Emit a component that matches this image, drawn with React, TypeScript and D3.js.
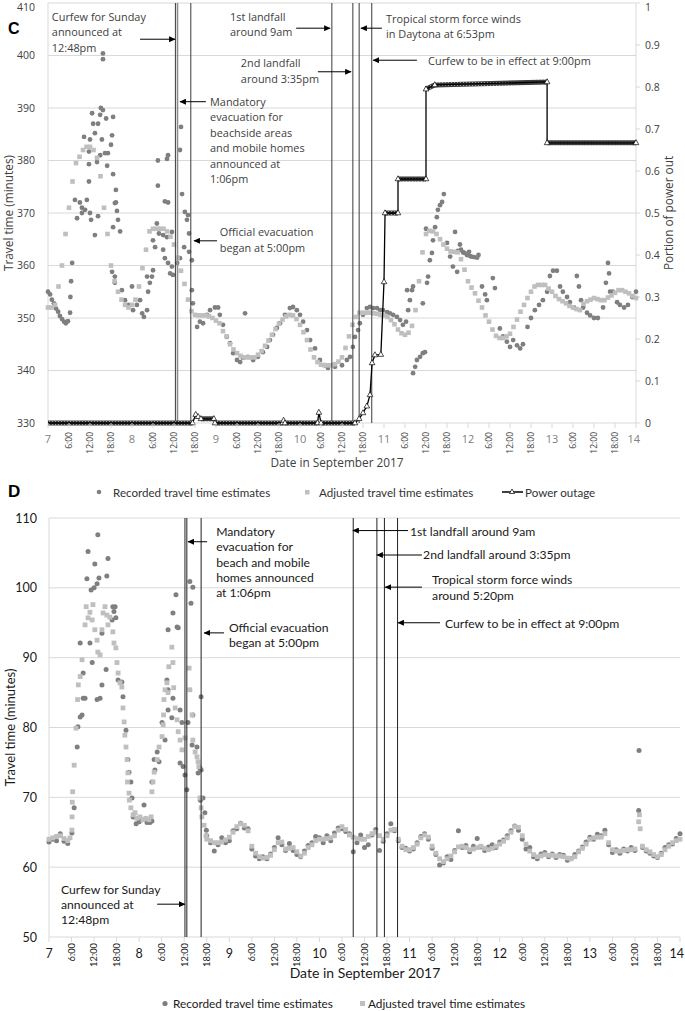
import * as d3 from 'd3'

const W = 685
const H = 1011

// hours are counted from Sept 7, 00:00
const DAY_LABELS = ['7', '8', '9', '10', '11', '12', '13', '14']
const HOUR_LABELS = ['6:00', '12:00', '18:00']
const TICKS_C_LEFT = [330, 340, 350, 360, 370, 380, 390, 400, 410]
const TICKS_C_RIGHT = [0, 0.1, 0.2, 0.3, 0.4, 0.5, 0.6, 0.7, 0.8, 0.9, 1]
const TICKS_D = [50, 60, 70, 80, 90, 100, 110]

// ---- panel C ----
const adjustedC = [
  352, 352, 352.5, 356, 360, 366, 371, 376, 379.5, 380.7, 382, 382.6, 382.6, 382, 380.5, 377, 371, 366, 360, 357, 355, 353.5, 352.5, 352,
  352.5, 353.5, 356, 359.5, 363, 366.5, 367, 367, 367, 367, 366.5, 365.5, 364, 361.5, 359, 356.5, 353.5, 351.3, 350.6, 350.5, 350.5, 350.5, 350.3, 350,
  349.5, 349, 347.5, 346.5, 345, 344, 343.3, 342.8, 342.5, 342.5, 342.5, 342.5, 343, 343.7, 344.7, 345.7, 346.8, 347.9, 348.9, 349.7, 350.3, 350.6, 350.5, 349.8,
  348.7, 347.3, 345.8, 344, 342.5, 341.6, 341.1, 341, 341, 341, 341.2, 341.7, 342.5, 344.3, 346.5, 348.7, 350.2, 351, 351, 351, 351, 350.9, 350.8, 350.6,
  350.5, 350.2, 349.6, 348.8, 347.8, 347.1, 346.8, 347.2, 348.5, 351.5, 357, 362.5, 366, 366.6, 366.5, 366, 365, 364, 363.2, 362.7, 362.6, 362.5, 361.2, 359.2,
  357, 355.8, 354.7, 353.3, 352, 350.5, 349.3, 347.8, 346.6, 346.2, 346.2, 346.5, 347, 348.3, 349.7, 351.2, 352.5, 353.8, 355, 356, 356.3, 356.3, 356.3, 355.6,
  355, 354.2, 353.6, 353.2, 352.8, 352.3, 352, 351.7, 351.5, 352.7, 353.2, 353.5, 353.8, 353.6, 353.4, 353.4, 353.9, 354.3, 354.8, 355.3, 355.3, 355, 354.7, 354.2, 353.8,
]

const recordedC: [number, number][] = [
  [0, 355], [0.6, 354.5], [1.1, 353.5], [1.7, 352.8], [2.3, 351.8], [2.9, 351.2], [3.4, 350.4], [4, 349.8], [4.6, 349.3], [5.1, 349], [5.7, 349.4],
  [6.3, 351], [6.4, 354], [6.6, 357], [6.9, 360.5], [7.7, 372.5], [8.3, 369], [9.1, 372], [9.7, 370], [9.7, 371], [10.3, 384.5], [10.6, 370.6],
  [11.1, 372.5], [11.7, 376], [11.7, 379.3], [11.7, 381.7], [12, 384], [12, 370], [12.3, 368.7], [12.6, 389], [12.9, 387], [13.4, 385.2], [13.4, 365.8],
  [14, 379.7], [14.3, 387], [14.3, 369.4], [14.9, 388.7], [14.9, 381], [15.1, 390], [15.4, 384], [15.7, 400.4], [15.7, 399.3], [15.7, 389.6],
  [16.3, 381.4], [16.6, 388], [16.9, 379], [17.1, 381.4], [18, 383], [18.3, 384.8], [18.6, 388.3], [18.6, 377.4], [18.6, 367.3], [19.1, 371.9],
  [19.4, 374.4], [19.4, 372], [19.7, 370.4], [20, 368.7], [20.6, 366.5], [18.3, 358.8], [19.1, 357.9], [19.1, 356.7], [21.1, 355.3], [22, 353.4],
  [22.9, 352.5], [24, 356], [24.3, 351.5], [25.4, 352.5], [26.3, 353.4], [26.9, 350.9], [27.4, 350.2], [28.3, 351.5], [28.3, 357.9], [28.6, 355],
  [29.1, 356.7], [29.7, 357.9], [30, 359.1], [30, 364.8], [30.6, 363.5], [31.1, 368], [31.4, 380], [31.4, 375.2], [31.7, 366.1], [32.9, 363],
  [32.9, 365.8], [33.4, 361.4], [33.4, 372.2], [34, 365.4], [34, 380.3], [34.3, 381], [34.3, 372], [34.3, 360.5], [34.9, 358.5], [35.4, 359.8],
  [35.4, 366.4], [35.7, 358.2], [36.9, 360.5], [37.7, 361.4], [37.7, 382], [38, 386.4], [38.3, 373.6], [38.9, 363.5], [39.1, 370.2], [39.7, 368.7],
  [40, 369.6], [40.3, 366.1], [40.3, 362.6], [41.1, 361], [41.1, 355.3], [41.4, 352.8], [42.6, 348.3], [43.4, 349.3], [44.3, 349], [45.4, 350.6],
  [46.3, 351.5], [47.7, 352], [48.6, 352], [49.1, 350.6], [50, 348.7], [51.1, 346.4], [52, 345.2], [52.9, 343.3], [54, 342], [54.9, 341.6],
  [55.7, 342.4], [56.3, 350.9], [57.1, 342.6], [58.6, 342], [60, 342.6], [61.4, 343.5], [62.6, 344.5], [63.4, 345.8], [64.3, 346.8], [65.4, 348.1],
  [66.3, 349], [67.7, 350.6], [69.1, 351.9], [70, 352.1], [71.1, 351.5], [72, 350.6], [72.9, 349.3], [74, 347.7], [74.9, 345.8], [76.3, 344.2],
  [77.7, 342], [79.1, 341], [80, 340.5], [82, 340.7], [84, 341], [85.4, 342], [86.3, 342.6], [87.1, 344.5], [87.7, 346.4], [88.6, 347.7],
  [89.1, 349], [90, 350.6], [91.1, 351.9], [92, 352.1], [92.9, 351.9], [94, 351.9], [94.9, 351.5], [95.7, 351.5], [96.9, 351.1], [97.7, 350.9],
  [98.6, 350.6], [99.7, 350.2], [100.6, 349.6], [101.4, 348.7], [102.3, 349.3], [102.6, 355.3], [102.9, 351.5], [103.4, 353.4], [104, 355.3],
  [104.3, 356], [104.3, 339.5], [104.9, 340.7], [105.4, 342], [106.3, 342.6], [107.1, 343.3], [107.1, 352.8], [107.7, 343.5], [108, 367],
  [108.3, 356.7], [108.6, 357.9], [109.1, 361], [109.7, 362.4], [110, 364.8], [110.6, 367.3], [111.1, 369.2], [111.4, 370.6], [112, 371.5],
  [112.6, 372.1], [113.1, 373.6], [114, 364.3], [114.9, 361.7], [115.7, 359.8], [116.3, 366.4], [116.9, 358.8], [117.1, 362.8], [117.7, 364],
  [118, 363], [118.6, 362.5], [119, 362.4], [119.7, 362], [120.3, 362.6], [120.6, 361.8], [121, 361.7], [121.7, 361.6], [122.6, 361.5], [123, 362],
  [124, 356], [124.9, 354.5], [125.4, 353.4], [127.1, 357.6], [127.7, 355.7], [129.1, 348], [130, 346.5], [131.1, 345.5], [132, 344.5],
  [132.9, 345.8], [134, 344.8], [134.9, 344.2], [135.7, 345], [137, 348.3], [138, 350], [139.1, 351.5], [140.3, 352.5], [141.4, 353.4],
  [142.6, 355], [143.4, 358], [144.3, 359], [145.4, 359], [146.3, 356], [147.1, 355], [148.3, 354], [149.1, 353], [150.3, 352], [151.1, 358],
  [151.7, 356], [152.3, 353.4], [152.9, 352], [154, 351], [154.9, 350.5], [156, 350], [157.1, 350], [158.6, 352], [159.4, 356.7], [160, 360.5],
  [160.3, 358.5], [160.6, 355], [161.4, 355], [162.6, 353], [163.4, 352.5], [164.6, 352], [165.7, 352.5], [166.9, 354], [168, 355],
]

// power outage (portion of customers), step series
const powerHours = [0, 41.3, 42.2, 42.9, 43.7, 47.4, 47.7, 67, 67.3, 67.7, 77, 77.4, 78, 87.7, 88.9, 90, 91.1, 92, 92.6, 93.4, 95.1, 96, 96.3, 100, 100, 108, 108, 110.5, 142.6, 142.6, 168]
const powerValues = [0, 0, 0.02, 0.015, 0.01, 0.01, 0, 0, 0.006, 0, 0, 0.025, 0, 0, 0.01, 0.024, 0.04, 0.067, 0.143, 0.162, 0.163, 0.336, 0.5, 0.5, 0.581, 0.581, 0.795, 0.805, 0.812, 0.667, 0.667]

const eventHoursC = [36.4, 37, 40.8, 81.1, 87.1, 88.9, 92.5]

const notesC = [
  { lines: ['Curfew for Sunday', 'announced at', '12:48pm'], h: 1.1, v: 406.6, arrow: [26.3, 36.3, 403.1] },
  { lines: ['Mandatory', 'evacuation for', 'beachside areas', 'and mobile homes', 'announced at', '1:06pm'], h: 46.3, v: 390.4, arrow: [45.1, 37.7, 391.2] },
  { lines: ['Official evacuation', 'began at 5:00pm'], h: 49.1, v: 365.6, arrow: [48.3, 41.7, 364.7] },
  { lines: ['1st landfall', 'around 9am'], h: 52, v: 406.6, arrow: [70.9, 80.6, 405.2] },
  { lines: ['2nd landfall', 'around 3:35pm'], h: 55.1, v: 397.8, arrow: [77.1, 86.6, 396.9] },
  { lines: ['Tropical storm force winds', 'in Daytona at 6:53pm'], h: 96.6, v: 406.2, arrow: [95.4, 89.4, 405.2] },
  { lines: ['Curfew to be in effect at 9:00pm'], h: 108.6, v: 398.2, arrow: [105.4, 92.9, 399.1] },
]

// ---- panel D ----
const adjustedDEarly: [number, number][] = [
  [0, 64], [1, 64.2], [2, 64.4], [3, 64.5], [4, 64.1], [5, 63.8], [5.6, 64.2], [6.1, 65.3], [6.15, 67.2], [6.2, 69.3], [6.3, 70.8],
  [6.7, 74.6], [7.2, 79.9], [7.6, 84], [7.8, 86.1], [8.3, 87.3], [8.8, 89.7], [9.6, 94.7], [9.9, 97.3], [10.4, 95.7], [10.9, 96.5],
  [11.5, 95.4], [11.7, 97.6], [12.2, 94], [12.8, 92.5], [13, 90.8], [13.6, 90.4], [14.1, 94], [14.4, 96.4], [14.9, 97.3], [15.4, 96.1],
  [15.7, 94.7], [16.2, 95.8], [17, 93.7], [17.3, 92.1], [17.8, 91.4], [18.1, 89.3], [18.4, 87.8], [18.9, 86.4], [19.4, 85.8], [19.7, 82.8],
  [20, 80.8], [20.2, 78.9], [20.5, 77.2], [20.8, 75.4], [20.9, 72.2], [21, 73.5], [21.3, 70.6], [21.4, 69.6], [21.8, 68.5], [22.4, 67.5],
  [22.9, 67.8], [23.4, 67], [24.2, 67.2], [25, 66.8], [25.8, 67], [26.6, 66.8], [27.2, 67.2], [27.4, 70.8], [27.7, 72.2], [28, 73.6],
  [28.8, 75.4], [29.3, 77.2], [30.1, 78.7], [30.4, 80.4], [30.5, 81.8], [30.6, 84], [30.9, 85.4], [31.4, 86.4], [31.7, 85], [31.9, 88.7],
  [32.7, 91.5], [33, 89.3], [33.2, 85.7], [33.6, 82.8], [34.1, 81.1], [34.4, 79.4], [34.9, 78.2], [35.4, 76.8], [36.2, 78.5], [37.3, 88.5],
  [37.5, 85.4], [38.1, 81.8], [38.3, 78.2], [38.9, 76.5], [39.4, 75.8], [39.7, 75.1], [39.9, 74.4], [40.2, 69.9], [40.5, 68.5], [40.7, 67.2],
  [41.3, 66], [41.8, 64.5],
]
// hourly from hour 42
const adjustedDLate = [
  64, 63.8, 63.5, 63.5, 63.6, 63.9, 64.3, 65, 65.8, 66.2, 66, 65.2, 63, 62, 61.5, 61.3, 61.4, 61.7, 62.5, 63.5, 63.6, 62.6, 62.7, 62.8, 62.2, 61.6,
  62, 62.8, 63.2, 63.8, 64, 64, 64.1, 64.2, 64.5, 65.3, 65.8, 65.4, 64.6, 64.3, 64.1, 64, 64, 64.4, 64.8, 65, 64.5, 64, 64.5, 65.3, 65.4, 64,
  63, 62.5, 62.5, 62.8, 63.3, 64.2, 64.6, 64.3, 63, 62, 61.2, 60.8, 61.2, 61.6, 62.2, 62.9, 63, 62.8, 62.5, 62.6, 62.8, 63, 62.7, 62.5, 62.7, 63,
  63.3, 63.7, 64.2, 65, 65.8, 65.7, 64.5, 63.3, 62.3, 61.8, 61.5, 61.6, 61.8, 61.7, 61.7, 61.6, 61.6, 61.5, 61.3, 61.2, 61.5, 62.2, 62.7, 63.3,
  64, 64.2, 64.3, 64.3, 64.8, 63.5, 62.5, 62.3, 62.3, 62.4, 62.5, 62.5, 62.6, 66.5, 63, 62.5, 62.2, 61.8, 61.5, 61.8, 62.5, 63, 63.5, 63.8, 64,
]
const adjustedDExtra: [number, number][] = [[157.2, 67.5], [157.4, 65.5]]

const recordedDEarly: [number, number][] = [
  [0, 63.6], [1, 64], [2, 63.8], [3, 64.8], [4, 63.7], [5, 63.4], [6.1, 64.9], [6.7, 68.5], [7.5, 77.2], [7.7, 80.1], [8.3, 81.5], [8.8, 81.8],
  [8.3, 92.1], [9.1, 84.2], [9.6, 84.2], [9.1, 87.8], [10.9, 92.1], [11.5, 89.3], [12.8, 84], [13.6, 84.2], [14.1, 86.1], [14.1, 93.5],
  [15.2, 88.3], [16.8, 95.4], [17, 97.3], [17.3, 96.6], [17.8, 95.7], [18.4, 86.8], [19.4, 86.5], [19.7, 84.4], [20.5, 79.6], [21, 75.4],
  [21.3, 73.6], [21.8, 72.2], [22.1, 69.9], [13, 107.6], [10.4, 105.2], [15.7, 104.2], [12.2, 103.4], [10.1, 101.3], [13.3, 101.4],
  [15.4, 101.7], [12, 100], [12.8, 100.6], [11.2, 99.7], [17.6, 97.3], [22.4, 67.2], [23.2, 66.2], [24, 66.5], [24.8, 66.8], [25.3, 68.9],
  [26.1, 66.4], [26.9, 66.4], [27.4, 66.6], [27.4, 72.2], [28.2, 73.9], [28, 75.4], [28.8, 76.5], [29.3, 75.1], [30.1, 80.7], [30.9, 78.2],
  [31.4, 86.8], [31.7, 82.5], [32.7, 81.4], [31.7, 85.4], [33, 84.2], [33, 96.4], [34.1, 94.4], [33.8, 99], [34.4, 94.3], [34.9, 82.5],
  [35.4, 80.7], [34.9, 74.9], [35.7, 74.4], [36.2, 73.2], [36.7, 71.1], [37, 80.7], [37.5, 100.9], [38.3, 100.1], [37.8, 97.8], [38.1, 77.5],
  [38.3, 81.8], [39.4, 77.2], [39.7, 73.5], [40.2, 74.2], [40.5, 84.4], [40.5, 73.9], [41, 69.9], [31.7, 94], [40.3, 69.6], [41.5, 67.8], [41.9, 65.3],
]
// hourly from hour 42
const recordedDLate = [
  64.5, 63.5, 62.3, 63.2, 64.2, 63.5, 63.8, 65.2, 65.5, 66.3, 65.6, 65.5, 62.6, 61.6, 61.2, 61.5, 61.2, 61.9, 62.8, 64.2, 63.2, 62.4, 63.4, 62.4,
  61.8, 61.5, 62.3, 63.1, 63.5, 64.4, 64.2, 63.5, 64.5, 63.8, 64.9, 65.6, 65.5, 65.1, 64.8, 62.2, 63.5, 64.6, 62.8, 63.2, 64.6, 65.4, 62.4, 63.7,
  64.8, 66.2, 65.2, 63.8, 62.8, 62.7, 62.3, 62.6, 63.5, 64.4, 64.8, 64, 62.7, 61.8, 60.3, 60.6, 61.5, 61.1, 62.4, 65.2, 62.8, 63.1, 62.2, 63,
  64.1, 62.9, 62.4, 62.9, 63.2, 62.8, 63.6, 63.9, 64.5, 65.2, 65.9, 65.3, 64, 62.6, 62.8, 61.5, 61.2, 61.9, 62.1, 61.5, 61.9, 61.4, 61.8, 61.7,
  61, 61.2, 61.8, 62.3, 62.9, 63.6, 64.3, 64, 64.7, 64.5, 65.3, 63.2, 62.1, 62.5, 62, 62.6, 62.3, 62.8, 62.4, 68.1, 62.8, 62.3, 62, 61.6, 61.4,
  62, 62.8, 63.2, 63.3, 64.1, 64.8,
]
const recordedDExtra: [number, number][] = [[157.1, 76.7]]

const eventHoursD = [36.2, 36.7, 40.5, 81, 87.3, 89.3, 92.8]

const notesD = [
  { lines: ['Mandatory', 'evacuation for', 'beach and mobile', 'homes announced', 'at 1:06pm'], h: 44.5, v: 107.4, arrow: [42.1, 37, 106.6] },
  { lines: ['Official evacuation', 'began at 5:00pm'], h: 47.9, v: 93.7, arrow: [46.6, 41.3, 93.55] },
  { lines: ['1st landfall around 9am'], h: 96.1, v: 107.4, arrow: [95.6, 80.9, 108.2] },
  { lines: ['2nd landfall around 3:35pm'], h: 99.6, v: 104.1, arrow: [99.3, 87.3, 104.7] },
  { lines: ['Tropical storm force winds', 'around 5:20pm'], h: 102, v: 100.5, arrow: [99.3, 89.5, 100.1] },
  { lines: ['Curfew to be in effect at 9:00pm'], h: 105.4, v: 94.2, arrow: [104.1, 92.9, 95] },
  { lines: ['Curfew for Sunday', 'announced at', '12:48pm'], h: 3.2, v: 56.2, arrow: [28.8, 36.2, 54.7] },
]

const FONT_C = "'Open Sans', sans-serif"
const FONT_D = "'Liberation Sans Narrow', 'Arial Narrow', Lato, sans-serif"
const REC = '#7f7f7f'
const ADJ = '#bfbfbf'
const GRID = '#d9d9d9'

const hourTicks = d3.range(0, 169, 6)

function Notes({ notes, x, y, size, lh, font, fill }: any) {
  return (
    <g>
      {notes.map((n: any, i: number) => (
        <g key={i}>
          <text x={x(n.h)} y={y(n.v)} fontFamily={font} fontSize={size} fill={fill}>
            {n.lines.map((l: string, j: number) => (
              <tspan key={j} x={x(n.h)} dy={j ? lh : 0}>{l}</tspan>
            ))}
          </text>
          <line x1={x(n.arrow[0])} x2={x(n.arrow[1])} y1={y(n.arrow[2])} y2={y(n.arrow[2])}
            stroke="#000" strokeWidth={1} markerEnd="url(#arrowhead)" />
        </g>
      ))}
    </g>
  )
}

function TimeAxis({ x, y0, dayY, hourY, daySize, hourSize, font, dayFill, hourFill }: any) {
  return (
    <g fontFamily={font}>
      {hourTicks.map((h) => (
        <line key={h} x1={x(h)} x2={x(h)} y1={y0} y2={y0 + 5} stroke={GRID} />
      ))}
      {hourTicks.map((h) => {
        const k = (h / 6) % 4
        if (k === 0) {
          const last = h === 168
          return (
            <text key={h} x={last ? x(h) + 4 : x(h)} y={dayY} textAnchor={last ? 'end' : 'middle'}
              fontSize={daySize} fill={dayFill}>
              {DAY_LABELS[h / 24]}
            </text>
          )
        }
        return (
          <text key={h} transform={`translate(${x(h) + hourSize * 0.36},${hourY}) rotate(-90)`}
            textAnchor="end" fontSize={hourSize} fill={hourFill}>
            {HOUR_LABELS[k - 1]}
          </text>
        )
      })}
    </g>
  )
}

function PanelC() {
  const x = d3.scaleLinear().domain([0, 168]).range([48, 636])
  const y = d3.scaleLinear().domain([330, 410]).range([423, 3])
  const yp = d3.scaleLinear().domain([0, 1]).range([423, 3])
  const [x0, x1] = x.range()

  const powerPts = powerHours.map((h, i) => [x(h), yp(powerValues[i])] as [number, number])
  const stepLine = d3.line()(powerPts) ?? ''
  const bands = powerPts.slice(1).map((p, i) => {
    const q = powerPts[i]
    const flat = powerHours[i + 1] - powerHours[i] >= 2 && Math.abs(powerValues[i + 1] - powerValues[i]) < 0.03
    return flat ? <line key={i} x1={q[0]} y1={q[1]} x2={p[0]} y2={p[1]} stroke="url(#hatch)" strokeWidth={5} /> : null
  })

  return (
    <g>
      {TICKS_C_LEFT.map((t) => (
        <line key={t} x1={x0} x2={x1} y1={y(t)} y2={y(t)} stroke={GRID} />
      ))}
      <line x1={x0} x2={x0} y1={y(410)} y2={y(330)} stroke={GRID} />
      <line x1={x1} x2={x1} y1={y(410)} y2={y(330)} stroke={GRID} />
      {TICKS_C_RIGHT.map((t) => (
        <line key={t} x1={x1} x2={x1 + 4} y1={yp(t)} y2={yp(t)} stroke={GRID} />
      ))}

      {recordedC.map(([h, v], i) => (
        <circle key={i} cx={x(h)} cy={y(v)} r={2.4} fill={REC} />
      ))}
      {adjustedC.map((v, i) => (
        <rect key={i} x={x(i) - 2.3} y={y(v) - 2.3} width={4.6} height={4.6} fill={ADJ} />
      ))}

      {eventHoursC.map((h, i) => (
        <line key={i} x1={x(h)} x2={x(h)} y1={y(410)} y2={y(330)}
          stroke={i === 1 ? '#8c8c8c' : '#3a3a3a'} strokeWidth={i === 1 ? 1.6 : 1} />
      ))}

      {bands}
      <path d={stepLine} fill="none" stroke="#000" strokeWidth={1.3} />
      {powerPts.slice(1).map(([px, py], i) => (
        <path key={i} d={`M${px},${py - 3.2}L${px + 2.8},${py + 1.8}L${px - 2.8},${py + 1.8}Z`}
          fill="#fff" stroke="#000" strokeWidth={0.7} />
      ))}

      <Notes notes={notesC} x={x} y={y} size={10.9} lh={15.5} font={FONT_C} fill="#404040" />

      <g fontFamily={FONT_C} fontSize={10.5} fill="#404040">
        {TICKS_C_LEFT.map((t) => (
          <text key={t} x={35} y={Math.max(y(t) + 3.8, 11)} textAnchor="end">{t}</text>
        ))}
        {TICKS_C_RIGHT.map((t) => (
          <text key={t} x={645} y={Math.max(yp(t) + 3.8, 11)}>{t === 0 || t === 1 ? String(t) : t.toFixed(1)}</text>
        ))}
      </g>
      <TimeAxis x={x} y0={423} dayY={443} hourY={432} daySize={11} hourSize={8.5}
        font={FONT_C} dayFill="#808080" hourFill="#404040" />
      <text x={337} y={467} textAnchor="middle" fontFamily={FONT_C} fontSize={11.8} fill="#404040">Date in September 2017</text>
      <text transform={`translate(13,${y(370)}) rotate(-90)`} textAnchor="middle" fontFamily={FONT_C} fontSize={11.8} fill="#404040">
        Travel time (minutes)
      </text>
      <text transform={`translate(673,${yp(0.5)}) rotate(-90)`} textAnchor="middle" fontFamily={FONT_C} fontSize={11.8} fill="#404040">
        Portion of power out
      </text>
      <text x={8} y={34} fontFamily="'Liberation Sans', Arial, sans-serif" fontWeight="bold" fontSize={16}>C</text>
    </g>
  )
}

function PanelD() {
  const x = d3.scaleLinear().domain([0, 168]).range([49, 680])
  const y = d3.scaleLinear().domain([50, 110]).range([937, 518])
  const [x0, x1] = x.range()

  const adjusted = [...adjustedDEarly, ...adjustedDLate.map((v, i) => [42 + i, v] as [number, number]), ...adjustedDExtra]
  const recorded = [...recordedDEarly, ...recordedDLate.map((v, i) => [42 + i, v] as [number, number]), ...recordedDExtra]

  return (
    <g>
      {TICKS_D.map((t) => (
        <line key={t} x1={x0} x2={x1} y1={y(t)} y2={y(t)} stroke={GRID} />
      ))}
      <line x1={x0} x2={x0} y1={y(110)} y2={y(50)} stroke={GRID} />

      {recorded.map(([h, v], i) => (
        <circle key={i} cx={x(h)} cy={y(v)} r={2.5} fill={REC} />
      ))}
      {adjusted.map(([h, v], i) => (
        <rect key={i} x={x(h) - 2.4} y={y(v) - 2.4} width={4.8} height={4.8} fill={ADJ} />
      ))}

      {eventHoursD.map((h, i) => (
        <line key={i} x1={x(h)} x2={x(h)} y1={y(110)} y2={y(50)} stroke="#222" strokeWidth={1} />
      ))}

      <Notes notes={notesD} x={x} y={y} size={12.2} lh={15.2} font={FONT_D} fill="#1a1a1a" />

      <g fontFamily={FONT_D} fontSize={12.5} fill="#1a1a1a">
        {TICKS_D.map((t) => (
          <text key={t} x={37} y={y(t) + 4.5} textAnchor="end">{t}</text>
        ))}
      </g>
      <TimeAxis x={x} y0={937} dayY={958} hourY={943} daySize={12.5} hourSize={9.3}
        font={FONT_D} dayFill="#1a1a1a" hourFill="#1a1a1a" />
      <text x={365} y={978} textAnchor="middle" fontFamily={FONT_D} fontSize={14} fill="#1a1a1a">Date in September 2017</text>
      <text transform={`translate(15,${y(80)}) rotate(-90)`} textAnchor="middle" fontFamily={FONT_D} fontSize={13} fill="#1a1a1a">
        Travel time (minutes)
      </text>

      {/* legend above the panel */}
      <g fontFamily={FONT_D} fontSize={11.6} fill="#333">
        <circle cx={99} cy={492} r={2.3} fill={REC} />
        <text x={113} y={496.5}>Recorded travel time estimates</text>
        <rect x={305} y={490} width={4.5} height={4.5} fill={ADJ} />
        <text x={319} y={496.5}>Adjusted travel time estimates</text>
        <line x1={502} x2={523} y1={492} y2={492} stroke="#000" strokeWidth={1.5} />
        <path d="M512,489L514.5,493.5L509.5,493.5Z" fill="#fff" stroke="#000" strokeWidth={0.7} />
        <text x={525} y={496.5}>Power outage</text>
      </g>
      {/* legend below the panel */}
      <g fontFamily={FONT_D} fontSize={11.8} fill="#1a1a1a">
        <circle cx={165} cy={1003.5} r={2.6} fill={REC} />
        <text x={173} y={1007.5}>Recorded travel time estimates</text>
        <rect x={360} y={1001} width={5} height={5} fill={ADJ} />
        <text x={368} y={1007.5}>Adjusted travel time estimates</text>
      </g>
      <text x={8} y={497} fontFamily="'Liberation Sans', Arial, sans-serif" fontWeight="bold" fontSize={17}>D</text>
    </g>
  )
}

export default function App() {
  return (
    <svg width={W} height={H} viewBox={`0 0 ${W} ${H}`}
      style={{ position: 'absolute', left: 0, top: 0, background: '#fff' }}>
      <defs>
        <marker id="arrowhead" markerUnits="userSpaceOnUse" markerWidth={7} markerHeight={6}
          refX={6} refY={3} orient="auto">
          <path d="M0,0L6.5,3L0,6Z" fill="#000" />
        </marker>
        <pattern id="hatch" patternUnits="userSpaceOnUse" width={3} height={3}>
          <rect width={3} height={3} fill="#3d3d3d" />
          <rect x={1} y={1} width={1} height={1} fill="#9a9a9a" />
        </pattern>
      </defs>
      <rect width={W} height={H} fill="#fff" />
      <PanelC />
      <PanelD />
    </svg>
  )
}
